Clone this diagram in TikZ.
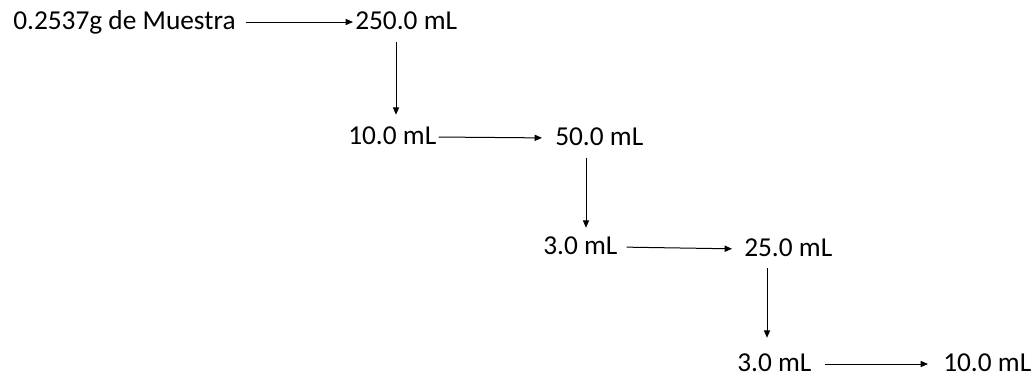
\documentclass[tikz,border=0pt]{standalone}
\usepackage{fontspec}
\setmainfont{Carlito}
\usetikzlibrary{arrows.meta}
\begin{document}
\begin{tikzpicture}[x=0.75pt,y=-0.75pt,
  lbl/.style={inner sep=0pt, anchor=base west, text height=12pt, text depth=1.5pt,
              font=\fontsize{20.5}{24}\selectfont},
  arr/.style={-{Triangle[length=5.5pt,width=4.6pt]}, line width=0.75pt}]
  \useasboundingbox (0,0) rectangle (1034,376);

  % dilution steps, row by row
  \node[lbl] (a) at (13,29)  {0.2537g de Muestra};
  \node[lbl] (b) at (355,29) {250.0 mL};
  \node[lbl] (c) at (348,144) {10.0 mL};
  \node[lbl] (d) at (555,145) {50.0 mL};
  \node[lbl] (e) at (543,254) {3.0 mL};
  \node[lbl] (f) at (744,256) {25.0 mL};
  \node[lbl] (g) at (737,371) {3.0 mL};
  \node[lbl] (h) at (943,371) {10.0 mL};

  % x positions of the vertical transfers
  \coordinate (v1) at (396,0);
  \coordinate (v2) at (586,0);
  \coordinate (v3) at (767,0);

  % horizontal arrows
  \draw[arr, shorten <=7.5pt, shorten >=1.5pt] (a.east) -- (b.west);
  \draw[arr, shorten <=1.5pt, shorten >=9.75pt] (c.east) -- (d.west);
  \draw[arr, shorten <=6.75pt, shorten >=9pt] (e.east) -- (f.west);
  \draw[arr, shorten <=9.75pt, shorten >=11.25pt] (g.east) -- (h.west);

  % vertical arrows
  \draw[arr, shorten <=8.25pt, shorten >=9.75pt] (b.south -| v1) -- (c.north -| v1);
  \draw[arr, shorten <=8.25pt, shorten >=7.5pt] (d.south -| v2) -- (e.north -| v2);
  \draw[arr, shorten <=7.5pt, shorten >=12.75pt] (f.south -| v3) -- (g.north -| v3);
\end{tikzpicture}
\end{document}
